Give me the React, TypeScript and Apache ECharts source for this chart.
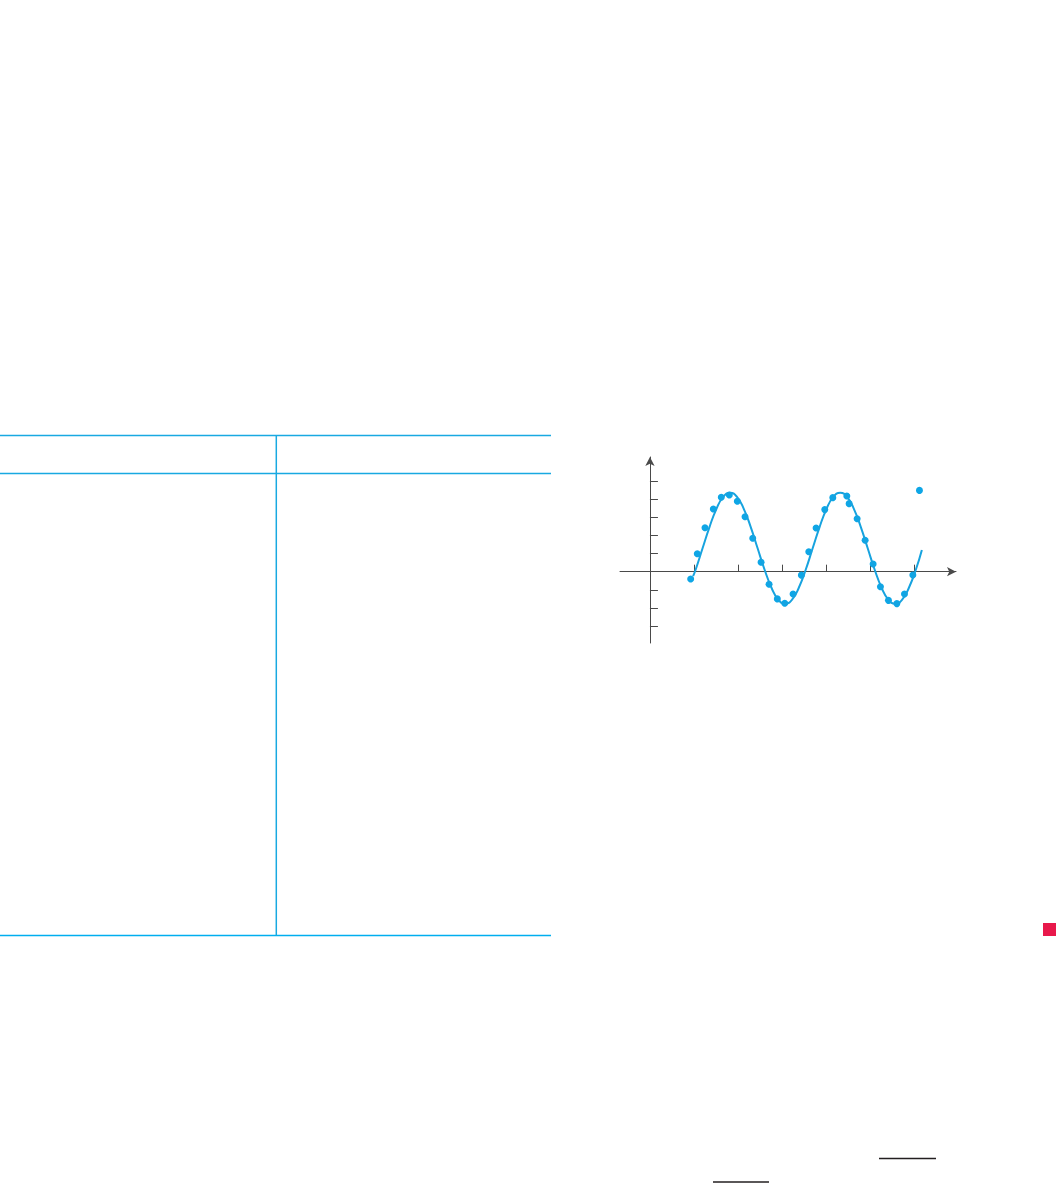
import React, { useEffect, useRef } from "react";
import * as echarts from "echarts";

// Observed data points (x in tick units, y in tick units)
const obsX = [0.925, 1.075, 1.25, 1.439, 1.62, 1.802, 1.984, 2.159, 2.334, 2.523, 2.705, 2.893, 3.061, 3.25, 3.439, 3.607, 3.773, 3.97, 4.152, 4.47, 4.523, 4.705, 4.886, 5.068, 5.234, 5.416, 5.607, 5.78, 5.97];
const obsY = [-0.4, 0.99, 2.42, 3.45, 4.1, 4.23, 3.88, 3.03, 1.84, 0.52, -0.69, -1.5, -1.74, -1.23, -0.19, 1.1, 2.41, 3.42, 4.08, 4.17, 3.75, 2.92, 1.73, 0.42, -0.83, -1.58, -1.76, -1.23, -0.18];

// Fitted curve
const curveX = [0.98, 1.039, 1.195, 1.352, 1.508, 1.664, 1.82, 1.977, 2.133, 2.289, 2.445, 2.602, 2.758, 2.914, 3.07, 3.227, 3.383, 3.539, 3.695, 3.852, 4.008, 4.164, 4.32, 4.477, 4.633, 4.789, 4.945, 5.102, 5.258, 5.414, 5.57, 5.727, 5.883, 6.039, 6.175];
const curveY = [-0.25, 0.12, 1.29, 2.46, 3.45, 4.12, 4.35, 4.12, 3.45, 2.46, 1.29, 0.12, -0.87, -1.54, -1.77, -1.54, -0.87, 0.12, 1.29, 2.46, 3.45, 4.12, 4.35, 4.12, 3.45, 2.46, 1.29, 0.12, -0.87, -1.54, -1.77, -1.54, -0.87, 0.12, 1.2];

// Key marker
const keyX = [6.12];
const keyY = [4.48];

// Tick values
const xTicks = [1, 2, 3, 4, 5, 6];
const yTicks = [-3, -2, -1, 1, 2, 3, 4, 5];

const BLUE = "#0ea6e6";
const LINE = "#17a3df";
const RULE = "#19a9e1";
const AXIS = "#4a4a4a";

export default function App() {
  const ref = useRef<HTMLDivElement>(null);
  useEffect(() => {
    if (!ref.current) return;
    const chart = echarts.init(ref.current, null, { renderer: "svg" });
    const hLine = (x1: number, x2: number, y: number, color: string, w: number) => ({
      type: "line",
      shape: { x1, y1: y, x2, y2: y },
      style: { stroke: color, lineWidth: w },
      silent: true,
    });
    chart.setOption({
      animation: false,
      backgroundColor: "#ffffff",
      grid: {
        left: 620,
        top: 457,
        width: 336,
        height: 186,
        containLabel: false,
        outerBoundsMode: "none",
      },
      xAxis: {
        type: "value",
        min: -0.68,
        max: 6.95,
        axisLine: {
          show: true,
          onZero: true,
          symbol: ["none", "arrow"],
          symbolSize: [7, 9],
          lineStyle: { color: AXIS, width: 1 },
        },
        axisTick: {
          show: true,
          inside: true,
          length: 7,
          customValues: xTicks,
          lineStyle: { color: AXIS, width: 1 },
        },
        axisLabel: { show: false },
        splitLine: { show: false },
      },
      yAxis: {
        type: "value",
        min: -3.93,
        max: 6.32,
        axisLine: {
          show: true,
          onZero: true,
          symbol: ["none", "arrow"],
          symbolSize: [7, 9],
          lineStyle: { color: AXIS, width: 1 },
        },
        axisTick: {
          show: true,
          inside: true,
          length: 8,
          customValues: yTicks,
          lineStyle: { color: AXIS, width: 1 },
        },
        axisLabel: { show: false },
        splitLine: { show: false },
      },
      series: [
        {
          type: "line",
          data: curveX.map((x, i) => [x, curveY[i]]),
          smooth: true,
          showSymbol: false,
          lineStyle: { color: LINE, width: 2 },
          silent: true,
        },
        {
          type: "scatter",
          data: obsX.map((x, i) => [x, obsY[i]]),
          symbol: "circle",
          symbolSize: 7,
          itemStyle: { color: BLUE, opacity: 1 },
          silent: true,
        },
        {
          type: "scatter",
          data: keyX.map((x, i) => [x, keyY[i]]),
          symbol: "circle",
          symbolSize: 7,
          itemStyle: { color: BLUE, opacity: 1 },
          silent: true,
        },
      ],
      graphic: [
        hLine(0, 551, 435.5, RULE, 1.5),
        hLine(0, 551, 473.5, RULE, 1.5),
        hLine(0, 551, 935.5, "#00aeef", 1.5),
        {
          type: "line",
          shape: { x1: 276.3, y1: 435.5, x2: 276.3, y2: 935.5 },
          style: { stroke: RULE, lineWidth: 1.5 },
          silent: true,
        },
        {
          type: "rect",
          shape: { x: 1043, y: 923, width: 13, height: 13 },
          style: { fill: "#e8184b" },
          silent: true,
        },
        hLine(879, 936, 1158.5, "#231f20", 1.5),
        hLine(713, 769, 1182, "#231f20", 1.5),
      ],
    });
    return () => chart.dispose();
  }, []);
  return (
    <div
      ref={ref}
      style={{ position: "absolute", left: 0, top: 0, width: 1056, height: 1183 }}
    />
  );
}
